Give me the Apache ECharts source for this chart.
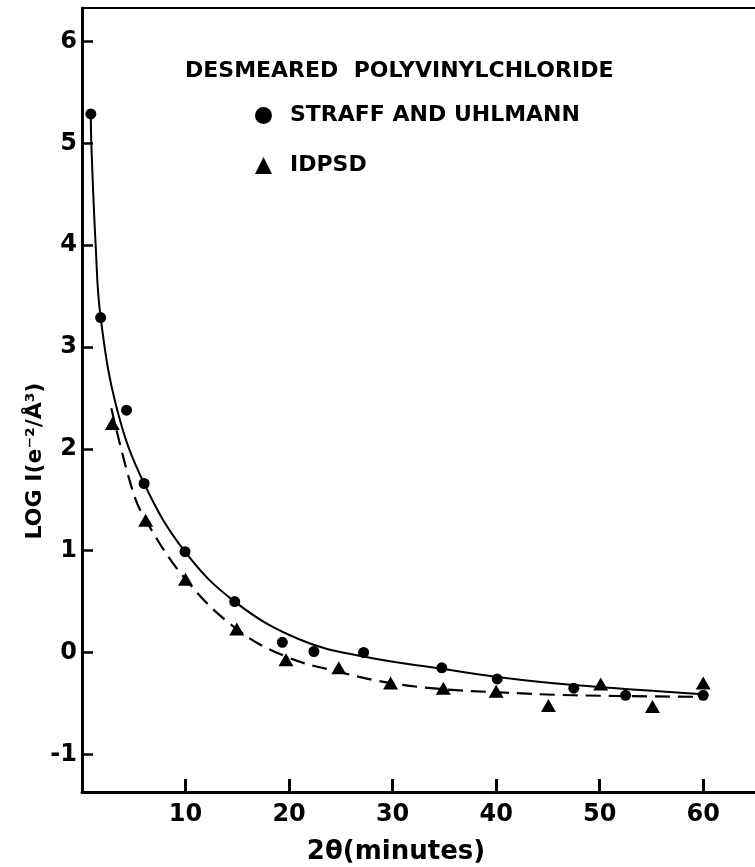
<!DOCTYPE html>
<html>
<head>
<meta charset="utf-8">
<script src="https://cdn.jsdelivr.net/npm/echarts@6/dist/echarts.min.js"></script>
<style>
  html, body { margin: 0; padding: 0; background: #fff; }
  #main { width: 755px; height: 867px; }
</style>
</head>
<body>
<div id="main"></div>
<script>
// measured points, Straff and Uhlmann (circles)
var circleX = [0.85, 1.8, 4.3, 6.0, 9.95, 14.75, 19.35, 22.4, 27.2, 34.75, 40.1, 47.5, 52.5, 60.0];
var circleY = [5.29, 3.29, 2.38, 1.66, 0.99, 0.50, 0.10, 0.01, 0.00, -0.15, -0.26, -0.35, -0.42, -0.42];

// IDPSD (triangles)
var triX = [2.93, 6.15, 10.0, 14.95, 19.7, 24.8, 29.8, 34.9, 40.0, 45.05, 50.1, 55.1, 60.0];
var triY = [2.25, 1.30, 0.72, 0.23, -0.07, -0.15, -0.30, -0.35, -0.38, -0.52, -0.31, -0.53, -0.30];

// solid curve through the circles
var solidX = [0.85, 0.9, 1.32, 1.8, 3.41, 6.0, 9.95, 14.75, 20.97, 27.2, 34.75, 40.1, 47.5, 60.0];
var solidY = [5.29, 5.0, 4.0, 3.29, 2.38, 1.66, 0.99, 0.50, 0.13, -0.04, -0.16, -0.24, -0.32, -0.41];

// dashed curve through the triangles
var dashX = [2.83, 4.86, 6.15, 10.0, 14.95, 19.7, 24.8, 29.8, 34.9, 40.0, 47.5, 60.0];
var dashY = [2.40, 1.60, 1.30, 0.72, 0.23, -0.04, -0.19, -0.30, -0.36, -0.39, -0.42, -0.435];

var xTicks = [10, 20, 30, 40, 50, 60];
var yTicks = [-1, 0, 1, 2, 3, 4, 5, 6];

function pairs(xs, ys) {
    return xs.map(function (x, i) { return [x, ys[i]]; });
}

var font = '"DejaVu Sans", sans-serif';
var myChart = echarts.init(document.getElementById('main'));

var option = {
    animation: false,
    backgroundColor: '#fff',
    grid: { left: 82, right: 0, top: 8, bottom: 75 },
    legend: {
        left: 250,
        top: 99,
        orient: 'vertical',
        itemWidth: 17,
        itemHeight: 17,
        itemGap: 27,
        selectedMode: false,
        data: [
            { name: 'STRAFF AND UHLMANN', icon: 'circle' },
            { name: 'IDPSD', icon: 'triangle' }
        ],
        textStyle: {
            color: '#000',
            fontFamily: font,
            fontWeight: 'bold',
            fontSize: 22,
            lineHeight: 23,
            padding: [0, 0, 0, 13]
        }
    },
    graphic: [
        {
            type: 'text',
            style: {
                text: 'DESMEARED  POLYVINYLCHLORIDE',
                x: 185, y: 71,
                verticalAlign: 'middle',
                font: 'bold 22px ' + font,
                fill: '#000'
            }
        },
        {
            type: 'text',
            rotation: Math.PI / 2,
            x: 35, y: 461,
            style: {
                text: 'LOG I(e\u207B\u00B2/\u00C5\u00B3)',
                align: 'center',
                verticalAlign: 'middle',
                font: 'bold 22px ' + font,
                fill: '#000'
            }
        },
        {
            type: 'text',
            style: {
                text: '2\u03B8(minutes)',
                x: 396, y: 852,
                align: 'center',
                verticalAlign: 'middle',
                font: 'bold 26px ' + font,
                fill: '#000'
            }
        }
    ],
    xAxis: [
        {
            type: 'value',
            min: 0,
            max: 65,
            splitLine: { show: false },
            axisLine: { onZero: false, lineStyle: { color: '#000', width: 3 } },
            axisTick: {
                inside: true,
                length: 13,
                customValues: xTicks,
                lineStyle: { color: '#000', width: 3 }
            },
            axisLabel: {
                customValues: xTicks,
                margin: 11,
                color: '#000',
                fontFamily: font,
                fontWeight: 'bold',
                fontSize: 24
            }
        },
        {
            type: 'value',
            position: 'top',
            min: 0,
            max: 65,
            splitLine: { show: false },
            axisLine: { show: true, onZero: false, lineStyle: { color: '#000', width: 2 } },
            axisTick: { show: false },
            axisLabel: { show: false }
        }
    ],
    yAxis: {
        type: 'value',
        min: -1.37,
        max: 6.33,
        splitLine: { show: false },
        axisLine: { onZero: false, lineStyle: { color: '#000', width: 3 } },
        axisTick: {
            inside: true,
            length: 11,
            customValues: yTicks,
            lineStyle: { color: '#000', width: 2.5 }
        },
        axisLabel: {
            customValues: yTicks,
            margin: 5,
            color: '#000',
            fontFamily: font,
            fontWeight: 'bold',
            fontSize: 24
        }
    },
    series: [
        {
            name: 'fit-solid',
            type: 'line',
            data: pairs(solidX, solidY),
            smooth: 0.4,
            showSymbol: false,
            lineStyle: { color: '#000', width: 2 }
        },
        {
            name: 'fit-dashed',
            type: 'line',
            data: pairs(dashX, dashY),
            smooth: 0.4,
            showSymbol: false,
            lineStyle: { color: '#000', width: 2.2, type: [15, 8] }
        },
        {
            name: 'STRAFF AND UHLMANN',
            type: 'scatter',
            data: pairs(circleX, circleY),
            symbol: 'circle',
            symbolSize: 11,
            itemStyle: { color: '#000', opacity: 1 }
        },
        {
            name: 'IDPSD',
            type: 'scatter',
            data: pairs(triX, triY),
            symbol: 'triangle',
            symbolSize: [15, 13],
            itemStyle: { color: '#000', opacity: 1 }
        }
    ]
};
myChart.setOption(option);
</script>
</body>
</html>
